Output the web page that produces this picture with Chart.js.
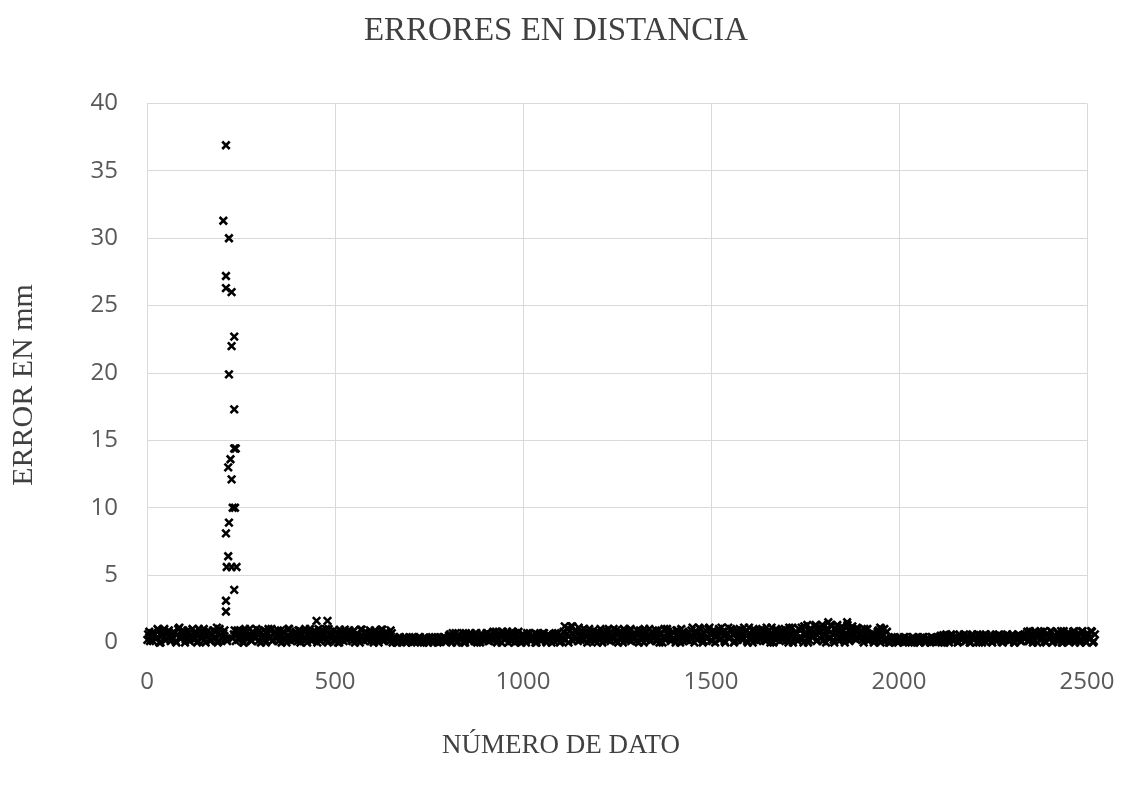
<!DOCTYPE html>
<html>
<head>
<meta charset="utf-8">
<script src="https://cdn.jsdelivr.net/npm/chart.js@4.4.1/dist/chart.umd.min.js"></script>
<style>
  html, body { margin: 0; padding: 0; background: #fff; }
</style>
</head>
<body>
<canvas id="grafico" width="1123" height="785"></canvas>
<script>
// Banda de errores pequeños, leída por tramos (cada 5 números de dato)
// Serie A: número de dato 1, 6, 11, ...   Serie B: 3, 8, 13, ...
var bandaPaso = 5;
var bandaInicioA = 1;
var bandaErroresA = [
    0.2,0.8,0.5,
    0.1,0.6,0.3,0.9,0.0,0.5,1.0,0.2,0.7,0.4,
    0.2,0.8,0.1,0.6,1.1,0.3,0.9,0.0,0.5,0.7,
    0.4,1.0,0.2,0.6,0.1,0.8,0.3,1.0,0.0,0.5,
    0.7,0.2,0.9,0.4,1.1,0.1,0.6,
    0.4,0.9,0.2,null,null,null,0.6,
    0.1,0.9,0.4,0.7,0.0,1.0,0.3,0.6,0.2,0.8,
    0.5,1.0,0.1,0.7,0.3,0.9,0.0,0.6,0.4,1.0,
    0.2,0.8,0.5,0.1,0.9,0.3,0.7,0.0,1.0,0.4,
    0.6,0.2,0.8,0.1,0.9,0.5,0.3,1.0,0.0,0.7,
    0.4,
    0.2,0.9,0.5,1.0,0.1,0.7,0.3,1.0,0.0,0.6,
    0.3,0.9,0.1,0.6,0.0,0.8,0.4,0.95,0.2,0.7,
    0.5,0.1,0.9,0.3,0.6,0.0,0.95,0.4,0.8,0.2,
    0.7,0.1,0.5,0.9,0.3,0.0,0.6,0.95,0.2,0.8,
    0.4,0.1,0.7,
    0.1,0.3,0.0,0.4,0.2,0.1,0.35,0.0,0.3,0.15,
    0.4,0.05,0.25,0.1,0.4,0.2,0.0,0.3,0.1,0.35,
    0.2,0.0,0.4,0.15,0.3,0.05,0.25,0.4,0.1,
    0.2,0.6,0.0,0.4,0.7,0.1,0.5,0.3,0.7,0.0,
    0.4,0.6,0.2,0.5,0.1,0.7,0.3,0.0,0.6,0.4,
    0.2,0.7,
    0.1,0.5,0.8,0.3,0.0,0.7,0.4,0.8,0.2,0.6,
    0.0,0.5,0.8,0.3,0.7,0.1,
    0.4,0.0,0.6,0.2,0.7,0.3,0.1,0.5,0.7,0.0,
    0.4,0.6,0.2,0.7,0.1,0.5,0.3,0.0,0.6,0.7,
    0.2,0.4,0.1,
    0.3,1.2,0.6,0.0,0.9,1.2,0.4,0.8,0.1,
    0.5,0.9,0.2,0.7,0.0,1.0,0.4,0.6,0.1,0.8,
    0.3,1.0,0.0,0.5,0.9,0.2,0.7,0.4,1.0,0.1,
    0.6,0.8,0.3,0.0,0.9,0.5,0.2,1.0,0.4,0.7,
    0.1,0.6,0.9,0.3,0.0,0.8,0.5,1.0,0.2,0.7,
    0.4,0.1,0.9,0.6,0.0,1.0,0.3,0.8,0.5,0.2,
    0.7,0.0,0.9,0.4,1.0,0.1,0.6,
    0.2,0.8,0.5,1.1,0.0,0.7,0.3,1.0,0.6,0.1,
    0.9,0.4,1.1,0.2,0.7,0.0,0.5,1.0,0.3,0.8,
    0.1,0.6,1.1,0.4,0.9,0.0,0.7,0.2,1.0,0.5,
    0.3,0.8,0.1,1.1,0.6,0.0,0.9,0.4,0.7,0.2,
    1.0,0.5,0.1,0.8,0.3,1.1,0.0,0.6,0.9,0.4,
    0.7,0.2,1.0,0.5,0.0,0.8,1.1,0.3,0.6,0.1,
    0.4,1.1,0.0,0.7,1.3,0.2,0.9,0.5,1.2,0.1,
    0.8,0.3,1.3,0.6,0.0,1.0,0.4,1.2,0.2,0.7,
    1.3,0.1,0.9,0.5,0.0,1.1,0.3,0.8,1.2,0.6,
    0.2,1.0,
    0.3,0.9,0.0,0.6,1.0,0.2,0.5,0.7,0.1,0.4,
    0.9,0.0,0.6,1.0,0.3,
    0.2,0.0,0.4,0.1,0.3,0.05,0.35,0.2,0.0,0.4,
    0.15,0.3,0.1,0.4,0.0,0.25,0.35,0.1,0.2,0.4,
    0.0,0.3,0.15,0.4,0.05,0.25,0.35,
    0.1,0.5,0.3,0.0,0.6,0.2,0.4,0.55,0.1,0.3,
    0.0,0.6,0.2,0.45,0.1,0.5,0.3,0.0,0.6,0.25,
    0.4,0.1,0.55,0.0,0.35,0.6,0.2,0.45,0.05,0.3,
    0.5,0.1,0.6,0.25,0.0,0.4,0.55,0.15,0.3,0.6,
    0.0,0.45,0.2,0.5,0.1,0.35,
    0.3,0.8,0.1,0.6,0.0,0.85,0.4,0.7,0.2,0.5,
    0.85,0.0,0.6,0.3,0.8,0.1,0.45,0.7,0.2,0.85,
    0.0,0.5,0.3,0.75,0.1,0.6,0.85,0.2,0.4,0.0,
    0.8,0.5,0.1,0.7,0.3,0.85,0.0,0.6
];
var bandaInicioB = 3;
var bandaErroresB = [
    0.6,0.1,0.7,
    0.7,0.3,1.0,0.0,0.5,0.8,0.2,0.6,0.9,0.1,
    0.4,0.7,0.0,1.0,0.3,0.5,0.8,0.2,0.9,0.1,
    0.6,0.3,0.8,0.0,1.0,0.4,0.7,0.2,0.5,0.9,
    0.1,0.6,0.3,0.8,0.0,1.0,0.4,
    0.7,0.3,0.1,null,null,0.3,0.9,
    0.6,0.2,0.9,0.4,0.0,0.8,0.5,1.0,0.1,0.7,
    0.3,0.6,0.9,0.0,0.5,0.2,0.8,1.0,0.4,0.1,
    0.7,0.3,0.9,0.6,0.0,0.8,0.2,0.5,1.0,0.1,
    0.4,0.7,0.3,0.9,0.0,0.6,0.8,0.2,0.5,1.0,
    0.1,
    0.7,0.3,0.0,0.8,0.4,0.9,0.6,0.2,1.0,0.5,
    0.6,0.2,0.8,0.0,0.95,0.4,0.1,0.7,0.5,0.9,
    0.3,0.8,0.0,0.6,0.2,0.95,0.5,0.1,0.7,0.4,
    0.9,0.3,0.0,0.8,0.6,0.2,0.95,0.1,0.5,0.7,
    0.3,0.9,0.0,
    0.3,0.0,0.2,0.4,0.1,0.35,0.05,0.25,0.4,0.0,
    0.2,0.3,0.1,0.4,0.0,0.25,0.35,0.15,0.0,0.3,
    0.4,0.1,0.2,0.0,0.35,0.15,0.4,0.05,0.3,
    0.5,0.1,0.7,0.3,0.0,0.6,0.2,0.4,0.0,0.7,
    0.5,0.1,0.6,0.3,0.7,0.0,0.4,0.6,0.2,0.5,
    0.7,0.1,
    0.6,0.2,0.4,0.8,0.1,0.5,0.0,0.7,0.3,0.8,
    0.4,0.1,0.6,0.0,0.5,0.8,
    0.1,0.6,0.3,0.0,0.5,0.7,0.2,0.4,0.0,0.6,
    0.3,0.1,0.7,0.4,0.0,0.6,0.2,0.5,0.1,0.3,
    0.7,0.0,0.5,
    0.8,0.2,1.0,0.5,1.2,0.1,0.9,0.3,1.1,
    0.2,0.6,1.0,0.4,0.8,0.1,0.5,0.9,0.3,0.0,
    0.7,0.4,0.8,0.2,0.6,1.0,0.1,0.5,0.3,0.9,
    0.0,0.4,0.7,1.0,0.2,0.6,0.8,0.1,0.5,0.3,
    0.9,0.0,0.4,0.7,1.0,0.2,0.6,0.1,0.8,0.5,
    0.9,0.3,0.0,0.7,0.4,0.2,1.0,0.6,0.1,0.8,
    0.3,0.9,0.5,0.0,0.7,0.4,0.2,
    0.6,0.1,0.9,0.4,0.8,0.2,1.1,0.5,0.0,0.7,
    0.3,1.0,0.6,0.1,0.9,0.4,0.8,0.2,1.1,0.5,
    0.0,0.7,0.3,1.0,0.6,0.1,0.9,0.4,0.8,0.2,
    1.1,0.5,0.0,0.7,0.3,1.0,0.6,0.1,0.9,0.4,
    0.8,0.2,1.1,0.5,0.0,0.7,0.3,1.0,0.6,0.1,
    0.9,0.4,0.8,0.2,1.1,0.5,0.0,0.7,0.3,1.0,
    0.9,0.3,1.2,0.6,0.0,1.0,0.4,0.8,1.3,0.2,
    0.7,1.1,0.1,0.5,0.9,0.3,1.3,0.6,0.0,1.0,
    0.4,0.8,1.2,0.2,0.7,1.3,0.1,0.5,0.9,0.3,
    1.1,0.6,
    0.7,0.2,1.0,0.4,0.1,0.6,0.3,0.0,0.5,0.8,
    0.2,1.0,0.5,0.1,0.8,
    0.0,0.3,0.1,0.4,0.2,0.0,0.35,0.15,0.4,0.05,
    0.3,0.2,0.0,0.4,0.1,0.25,0.0,0.35,0.4,0.1,
    0.2,0.3,0.0,0.4,0.15,0.35,0.05,
    0.4,0.0,0.55,0.2,0.35,0.0,0.6,0.15,0.45,0.3,
    0.05,0.5,0.25,0.6,0.1,0.4,0.0,0.55,0.2,0.35,
    0.6,0.0,0.3,0.5,0.1,0.45,0.2,0.6,0.0,0.4,
    0.15,0.55,0.3,0.05,0.5,0.2,0.6,0.1,0.35,0.45,
    0.0,0.25,0.6,0.1,0.5,0.3,
    0.6,0.1,0.85,0.4,0.2,0.7,0.0,0.5,0.8,0.3,
    0.1,0.65,0.4,0.85,0.0,0.55,0.2,0.75,0.35,0.0,
    0.85,0.45,0.1,0.6,0.3,0.8,0.0,0.5,0.7,0.2,
    0.85,0.4,0.0,0.6,0.25,0.8,0.1,0.5
];

// Picos y puntos sueltos
var picoDatos =   [210, 203, 218, 210, 210, 225, 232, 225, 218, 232, 232, 236, 222, 216, 225, 228, 234, 218, 210, 216, 212, 225, 238, 232, 210, 210, 451, 480, 1812, 1862, 1950];
var picoErrores = [36.9, 31.3, 30.0, 27.2, 26.3, 26.0, 22.7, 22.0, 19.9, 17.3, 14.4, 14.4, 13.6, 13.0, 12.1, 10.0, 10.0, 8.9, 8.1, 6.4, 5.6, 5.6, 5.6, 3.9, 3.1, 2.3, 1.6, 1.6, 1.5, 1.5, 1.1];

var ticksX = [0, 500, 1000, 1500, 2000, 2500];
var ticksY = [0, 5, 10, 15, 20, 25, 30, 35, 40];

// Armar los puntos para Chart.js
var puntos = [];
function agregarBanda(inicio, valores) {
    for (var i = 0; i < valores.length; i++) {
        if (valores[i] !== null) {
            puntos.push({ x: inicio + i * bandaPaso, y: valores[i] });
        }
    }
}
agregarBanda(bandaInicioA, bandaErroresA);
agregarBanda(bandaInicioB, bandaErroresB);
for (var j = 0; j < picoDatos.length; j++) {
    puntos.push({ x: picoDatos[j], y: picoErrores[j] });
}

var gris = '#d9d9d9';
var fuenteTicks = { family: "'Open Sans', sans-serif", size: 24 };

// Títulos en letra serif, centrados en la página
var titulos = {
    id: 'titulos',
    afterDraw: function (chart) {
        var ctx = chart.ctx;
        ctx.save();
        ctx.fillStyle = '#404040';
        ctx.textAlign = 'center';
        ctx.textBaseline = 'middle';
        ctx.font = '33px "Liberation Serif"';
        ctx.fillText('ERRORES EN DISTANCIA', 556, 31);
        ctx.font = '27px "Liberation Serif"';
        ctx.fillText('NÚMERO DE DATO', 561, 746);
        ctx.translate(24, 385);
        ctx.rotate(-Math.PI / 2);
        ctx.font = '30px "Liberation Serif"';
        ctx.fillText('ERROR EN mm', 0, 0);
        ctx.restore();
    }
};

new Chart(document.getElementById('grafico').getContext('2d'), {
    type: 'scatter',
    data: {
        datasets: [{
            label: 'Error',
            data: puntos,
            pointStyle: 'crossRot',
            pointRadius: 5.3,
            pointBorderWidth: 2.6,
            borderColor: '#000',
            backgroundColor: '#000',
            clip: false
        }]
    },
    options: {
        responsive: false,
        animation: false,
        events: [],
        layout: { padding: { top: 103.5, right: 36, bottom: 0, left: 0 } },
        plugins: {
            legend: { display: false },
            tooltip: { enabled: false }
        },
        scales: {
            x: {
                type: 'linear',
                min: 0,
                max: 2500,
                afterBuildTicks: function (scale) {
                    scale.ticks = ticksX.map(function (v) { return { value: v }; });
                },
                afterFit: function (scale) {
                    scale.height = 142.5;
                    scale.paddingLeft = 0;
                    scale.paddingRight = 0;
                },
                grid: { color: gris, drawTicks: false },
                border: { color: gris },
                ticks: {
                    font: fuenteTicks, color: '#595959', padding: 25, maxRotation: 0,
                    callback: function (v) { return String(v); }
                }
            },
            y: {
                min: 0,
                max: 40,
                afterBuildTicks: function (scale) {
                    scale.ticks = ticksY.map(function (v) { return { value: v }; });
                },
                afterFit: function (scale) { scale.width = 147; },
                grid: { color: gris, drawTicks: false },
                border: { color: gris },
                ticks: { font: fuenteTicks, color: '#595959', padding: 29 }
            }
        }
    },
    plugins: [titulos]
});
</script>
</body>
</html>
